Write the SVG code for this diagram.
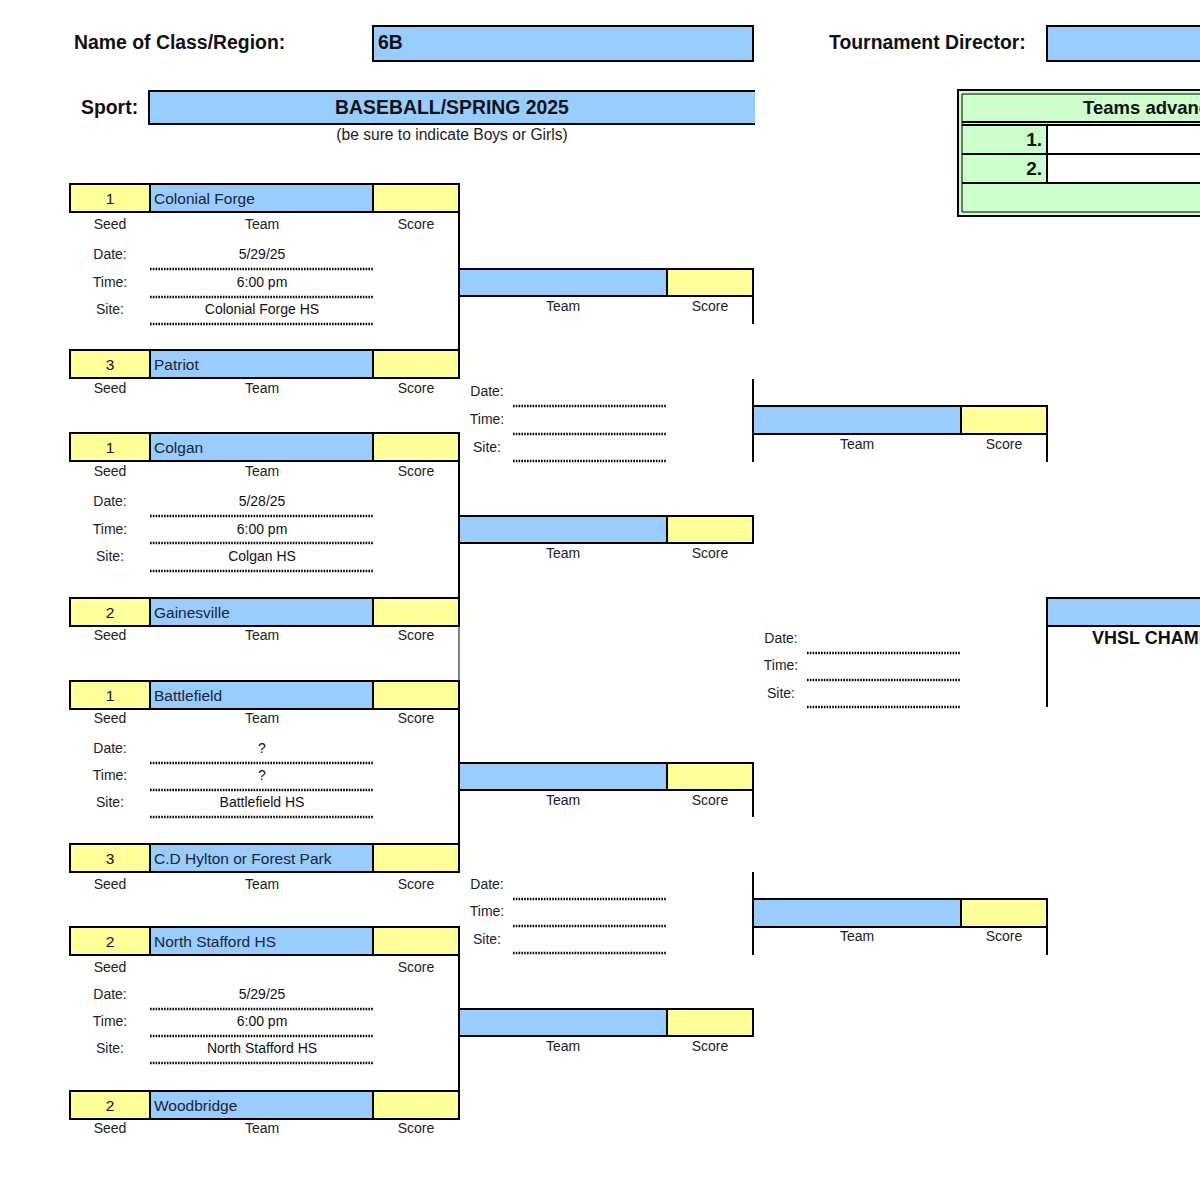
<svg xmlns="http://www.w3.org/2000/svg" width="1200" height="1177" viewBox="0 0 1200 1177">
<style>
text{font-family:"Liberation Sans",Arial,Helvetica,sans-serif}
.b{fill:#99CCFF;stroke:#000;stroke-width:2}
.y{fill:#FFFF99;stroke:#000;stroke-width:2}
.ln{stroke:#000;stroke-width:2;fill:none}
.thin{stroke:#000;stroke-width:1;fill:none}
.dot{stroke:#000;stroke-width:2.4;stroke-dasharray:1.6 1.2;fill:none}
.hd{font-size:19.4px;font-weight:bold;fill:#111}
.lbl{font-size:14px;fill:#222;text-anchor:middle}
.team{font-size:15.5px;fill:#1c2433}
.seed{font-size:15.5px;fill:#111;text-anchor:middle}
.val{font-size:14px;fill:#111;text-anchor:middle}
</style>

<g id="header">
  <text class="hd" x="74" y="49">Name of Class/Region:</text>
  <rect class="b" x="373" y="26" width="380" height="35"/>
  <text class="hd" x="378" y="49">6B</text>
  <text class="hd" x="829" y="49">Tournament Director:</text>
  <rect class="b" x="1047" y="26" width="160" height="35"/>
  <text class="hd" x="81" y="114">Sport:</text>
  <rect x="149" y="91" width="606" height="33" fill="#99CCFF"/>
  <path class="ln" d="M755 91H149V124H755"/>
  <text class="hd" x="452" y="114" text-anchor="middle" font-size="20.5">BASEBALL/SPRING 2025</text>
  <text x="452" y="140" text-anchor="middle" font-size="15.6" fill="#222">(be sure to indicate Boys or Girls)</text>
</g>

<g id="teams-advancing">
  <rect x="959" y="91" width="245" height="124" fill="#CCFFCC"/>
  <rect x="1047" y="124" width="157" height="59" fill="#fff"/>
  <path class="ln" d="M1204 90H958V216H1204"/>
  <path class="thin" d="M1204 94H962V212H1204"/>
  <path class="ln" d="M962 122H1204M962 125H1204M962 154H1204M962 183H1204M1047 124V183"/>
  <text x="1083" y="114" font-size="18.5" font-weight="bold" fill="#111">Teams advancing</text>
  <text x="1042" y="146" font-size="19" font-weight="bold" fill="#111" text-anchor="end">1.</text>
  <text x="1042" y="175" font-size="19" font-weight="bold" fill="#111" text-anchor="end">2.</text>
</g>

<g id="connectors">
  <path class="ln" d="M459 184V378"/>
  <path class="ln" d="M459 433V626"/>
  <path class="thin" d="M459 626V681"/>
  <path class="ln" d="M459 681V872"/>
  <path class="ln" d="M459 927V1119"/>
  <path class="ln" d="M753 269V324"/>
  <path class="ln" d="M753 379V462"/>
  <path class="ln" d="M753 763V817"/>
  <path class="ln" d="M753 872V955"/>
  <path class="ln" d="M1047 406V462"/>
  <path class="ln" d="M1047 899V955"/>
  <path class="ln" d="M1047 598V707"/>
</g>

<g id="r1-colonial-forge">
  <rect class="y" x="70" y="184" width="80" height="28"/><rect class="b" x="150" y="184" width="223" height="28"/><rect class="y" x="373" y="184" width="86" height="28"/>
  <text class="seed" x="110" y="204">1</text><text class="team" x="154" y="204">Colonial Forge</text>
  <text class="lbl" x="110" y="229">Seed</text><text class="lbl" x="262" y="229">Team</text><text class="lbl" x="416" y="229">Score</text>
</g>
<g id="r1-match1-info">
  <text class="lbl" x="110" y="259">Date:</text><text class="val" x="262" y="259">5/29/25</text><path class="dot" d="M150 269H373"/>
  <text class="lbl" x="110" y="287">Time:</text><text class="val" x="262" y="287">6:00 pm</text><path class="dot" d="M150 297H373"/>
  <text class="lbl" x="110" y="314">Site:</text><text class="val" x="262" y="314">Colonial Forge HS</text><path class="dot" d="M150 324H373"/>
</g>
<g id="r1-patriot">
  <rect class="y" x="70" y="350" width="80" height="28"/><rect class="b" x="150" y="350" width="223" height="28"/><rect class="y" x="373" y="350" width="86" height="28"/>
  <text class="seed" x="110" y="370">3</text><text class="team" x="154" y="370">Patriot</text>
  <text class="lbl" x="110" y="393">Seed</text><text class="lbl" x="262" y="393">Team</text><text class="lbl" x="416" y="393">Score</text>
</g>

<g id="r1-colgan">
  <rect class="y" x="70" y="433" width="80" height="28"/><rect class="b" x="150" y="433" width="223" height="28"/><rect class="y" x="373" y="433" width="86" height="28"/>
  <text class="seed" x="110" y="453">1</text><text class="team" x="154" y="453">Colgan</text>
  <text class="lbl" x="110" y="476">Seed</text><text class="lbl" x="262" y="476">Team</text><text class="lbl" x="416" y="476">Score</text>
</g>
<g id="r1-match2-info">
  <text class="lbl" x="110" y="506">Date:</text><text class="val" x="262" y="506">5/28/25</text><path class="dot" d="M150 516H373"/>
  <text class="lbl" x="110" y="534">Time:</text><text class="val" x="262" y="534">6:00 pm</text><path class="dot" d="M150 543H373"/>
  <text class="lbl" x="110" y="561">Site:</text><text class="val" x="262" y="561">Colgan HS</text><path class="dot" d="M150 571H373"/>
</g>
<g id="r1-gainesville">
  <rect class="y" x="70" y="598" width="80" height="28"/><rect class="b" x="150" y="598" width="223" height="28"/><rect class="y" x="373" y="598" width="86" height="28"/>
  <text class="seed" x="110" y="618">2</text><text class="team" x="154" y="618">Gainesville</text>
  <text class="lbl" x="110" y="640">Seed</text><text class="lbl" x="262" y="640">Team</text><text class="lbl" x="416" y="640">Score</text>
</g>

<g id="r1-battlefield">
  <rect class="y" x="70" y="681" width="80" height="28"/><rect class="b" x="150" y="681" width="223" height="28"/><rect class="y" x="373" y="681" width="86" height="28"/>
  <text class="seed" x="110" y="701">1</text><text class="team" x="154" y="701">Battlefield</text>
  <text class="lbl" x="110" y="723">Seed</text><text class="lbl" x="262" y="723">Team</text><text class="lbl" x="416" y="723">Score</text>
</g>
<g id="r1-match3-info">
  <text class="lbl" x="110" y="753">Date:</text><text class="val" x="262" y="753">?</text><path class="dot" d="M150 763H373"/>
  <text class="lbl" x="110" y="780">Time:</text><text class="val" x="262" y="780">?</text><path class="dot" d="M150 790H373"/>
  <text class="lbl" x="110" y="807">Site:</text><text class="val" x="262" y="807">Battlefield HS</text><path class="dot" d="M150 817H373"/>
</g>
<g id="r1-hylton">
  <rect class="y" x="70" y="844" width="80" height="28"/><rect class="b" x="150" y="844" width="223" height="28"/><rect class="y" x="373" y="844" width="86" height="28"/>
  <text class="seed" x="110" y="864">3</text><text class="team" x="154" y="864">C.D Hylton or Forest Park</text>
  <text class="lbl" x="110" y="889">Seed</text><text class="lbl" x="262" y="889">Team</text><text class="lbl" x="416" y="889">Score</text>
</g>

<g id="r1-north-stafford">
  <rect class="y" x="70" y="927" width="80" height="28"/><rect class="b" x="150" y="927" width="223" height="28"/><rect class="y" x="373" y="927" width="86" height="28"/>
  <text class="seed" x="110" y="947">2</text><text class="team" x="154" y="947">North Stafford HS</text>
  <text class="lbl" x="110" y="972">Seed</text><text class="lbl" x="416" y="972">Score</text>
</g>
<g id="r1-match4-info">
  <text class="lbl" x="110" y="999">Date:</text><text class="val" x="262" y="999">5/29/25</text><path class="dot" d="M150 1009H373"/>
  <text class="lbl" x="110" y="1026">Time:</text><text class="val" x="262" y="1026">6:00 pm</text><path class="dot" d="M150 1036H373"/>
  <text class="lbl" x="110" y="1053">Site:</text><text class="val" x="262" y="1053">North Stafford HS</text><path class="dot" d="M150 1063H373"/>
</g>
<g id="r1-woodbridge">
  <rect class="y" x="70" y="1091" width="80" height="28"/><rect class="b" x="150" y="1091" width="223" height="28"/><rect class="y" x="373" y="1091" width="86" height="28"/>
  <text class="seed" x="110" y="1111">2</text><text class="team" x="154" y="1111">Woodbridge</text>
  <text class="lbl" x="110" y="1133">Seed</text><text class="lbl" x="262" y="1133">Team</text><text class="lbl" x="416" y="1133">Score</text>
</g>

<g id="r2-slot1">
  <rect class="b" x="459" y="269" width="208" height="27"/><rect class="y" x="667" y="269" width="86" height="27"/>
  <text class="lbl" x="563" y="311">Team</text><text class="lbl" x="710" y="311">Score</text>
</g>
<g id="r2-match1-info">
  <text class="lbl" x="487" y="396">Date:</text><path class="dot" d="M513 406H667"/>
  <text class="lbl" x="487" y="424">Time:</text><path class="dot" d="M513 434H667"/>
  <text class="lbl" x="487" y="452">Site:</text><path class="dot" d="M513 461H667"/>
</g>
<g id="r2-slot2">
  <rect class="b" x="459" y="516" width="208" height="27"/><rect class="y" x="667" y="516" width="86" height="27"/>
  <text class="lbl" x="563" y="558">Team</text><text class="lbl" x="710" y="558">Score</text>
</g>
<g id="r2-slot3">
  <rect class="b" x="459" y="763" width="208" height="27"/><rect class="y" x="667" y="763" width="86" height="27"/>
  <text class="lbl" x="563" y="805">Team</text><text class="lbl" x="710" y="805">Score</text>
</g>
<g id="r2-match2-info">
  <text class="lbl" x="487" y="889">Date:</text><path class="dot" d="M513 899H667"/>
  <text class="lbl" x="487" y="916">Time:</text><path class="dot" d="M513 926H667"/>
  <text class="lbl" x="487" y="944">Site:</text><path class="dot" d="M513 953H667"/>
</g>
<g id="r2-slot4">
  <rect class="b" x="459" y="1009" width="208" height="27"/><rect class="y" x="667" y="1009" width="86" height="27"/>
  <text class="lbl" x="563" y="1051">Team</text><text class="lbl" x="710" y="1051">Score</text>
</g>

<g id="r3-slot1">
  <rect class="b" x="753" y="406" width="208" height="28"/><rect class="y" x="961" y="406" width="86" height="28"/>
  <text class="lbl" x="857" y="449">Team</text><text class="lbl" x="1004" y="449">Score</text>
</g>
<g id="r3-slot2">
  <rect class="b" x="753" y="899" width="208" height="28"/><rect class="y" x="961" y="899" width="86" height="28"/>
  <text class="lbl" x="857" y="941">Team</text><text class="lbl" x="1004" y="941">Score</text>
</g>
<g id="final-info">
  <text class="lbl" x="781" y="643">Date:</text><path class="dot" d="M807 653H961"/>
  <text class="lbl" x="781" y="670">Time:</text><path class="dot" d="M807 680H961"/>
  <text class="lbl" x="781" y="698">Site:</text><path class="dot" d="M807 707H961"/>
</g>
<g id="champion">
  <rect class="b" x="1047" y="598" width="160" height="28"/>
  <text x="1092" y="644" font-size="18" font-weight="bold" fill="#111">VHSL CHAMPION</text>
</g>
</svg>
